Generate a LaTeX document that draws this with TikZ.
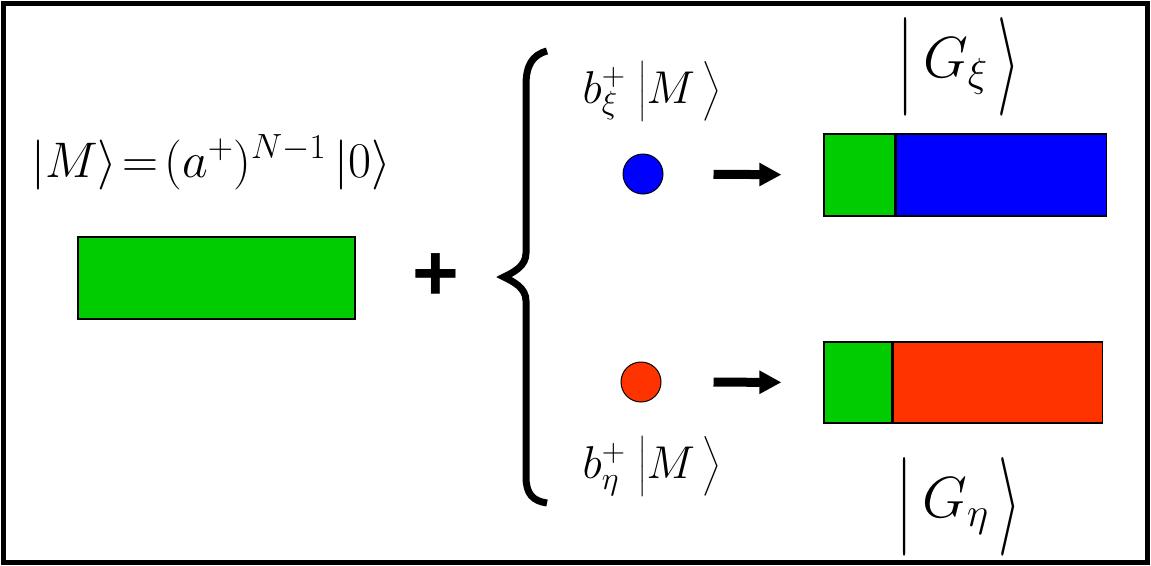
\RequirePackage{fix-cm}
\documentclass[tikz,border=0pt]{standalone}
\usepackage{exscale}
\usepackage{fontspec}
\newfontfamily\plusfont{Liberation Sans}
\usetikzlibrary{arrows.meta,positioning}
\definecolor{mgreen}{HTML}{00CC00}
\definecolor{mblue}{HTML}{0000FF}
\definecolor{mred}{HTML}{FF3300}
% tall ket for the G states
\newcommand{\tallket}[1]{\raisebox{-14pt}{\scalebox{1}[1.7]{$|$}}\,#1\,\raisebox{-14pt}{\scalebox{1}[1.7]{$\rangle$}}}

\begin{document}
\begin{tikzpicture}[x=1pt,y=-1pt,>=Latex]
  \tikzstyle{bar}=[draw,line width=1.2pt,minimum height=82pt,inner sep=0pt]
  \tikzstyle{dot}=[circle,draw,line width=1pt,minimum size=40pt,inner sep=0pt]
  \tikzstyle{arr}=[-{Triangle[length=22pt,width=22pt]},line width=9pt]
  \tikzstyle{lbl}=[inner sep=0pt]
  \useasboundingbox (0,0) rectangle (1151,565);
  \draw[line width=5pt] (3,3) rectangle (1147,562);
  % left: state M
  \node[lbl,anchor=base,font=\fontsize{50}{60}\selectfont] (mstate) at (211,177)
    {${\left|M\right\rangle}\mkern-3mu=\mkern-3mu(a^{+})^{N-1}\,{\left|0\right\rangle}$};
  \node[bar,fill=mgreen,minimum width=277pt] (mbar) at (216.5,278) {};
  \node[lbl,font=\plusfont\bfseries\fontsize{80}{80}\selectfont] (plus) at (436,277) {+};
  % brace
  \draw[line width=7pt] (547,51) .. controls (532,55) and (526,66) .. (526,85) -- (526,253)
    .. controls (526,266) and (514,272) .. (504,277)
    .. controls (514,282) and (526,288) .. (526,301) -- (526,477)
    .. controls (526,494) and (533,501) .. (547,503);
  % upper branch
  \node[lbl,anchor=base,font=\fontsize{46}{62}\selectfont] (bxi) at (652,103)
    {$b_{\xi}^{+}\;\bigl|M\,\bigr\rangle$};
  \node[dot,fill=mblue] (xi) at (643,174) {};
  \node[bar,fill=mgreen,minimum width=71pt] (gxihead) at (859.5,175) {};
  \node[bar,fill=mblue,minimum width=210pt,right=0pt of gxihead] (gxitail) {};
  \node[lbl,font=\fontsize{58}{60}\selectfont,above=56pt of gxihead.north east,anchor=base,xshift=63pt] (gxi)
    {$\tallket{G_{\xi}}$};
  \draw[arr,shorten <=50pt,shorten >=42pt] (xi) -- (gxihead);
  % lower branch
  \node[dot,fill=mred] (eta) at (641,382) {};
  \node[lbl,anchor=base,font=\fontsize{46}{62}\selectfont] (beta) at (652,478)
    {$b_{\eta}^{+}\;\bigl|M\,\bigr\rangle$};
  \node[bar,fill=mgreen,minimum width=68pt,minimum height=81pt] (getahead) at (858,382.5) {};
  \node[bar,fill=mred,minimum width=209pt,minimum height=81pt,right=0pt of getahead] (getatail) {};
  \node[lbl,font=\fontsize{58}{60}\selectfont,below=94pt of getahead.south east,anchor=base,xshift=66pt] (geta)
    {$\tallket{G_{\eta}}$};
  \draw[arr,shorten <=52pt,shorten >=42pt] (eta) -- (getahead);
\end{tikzpicture}
\end{document}
